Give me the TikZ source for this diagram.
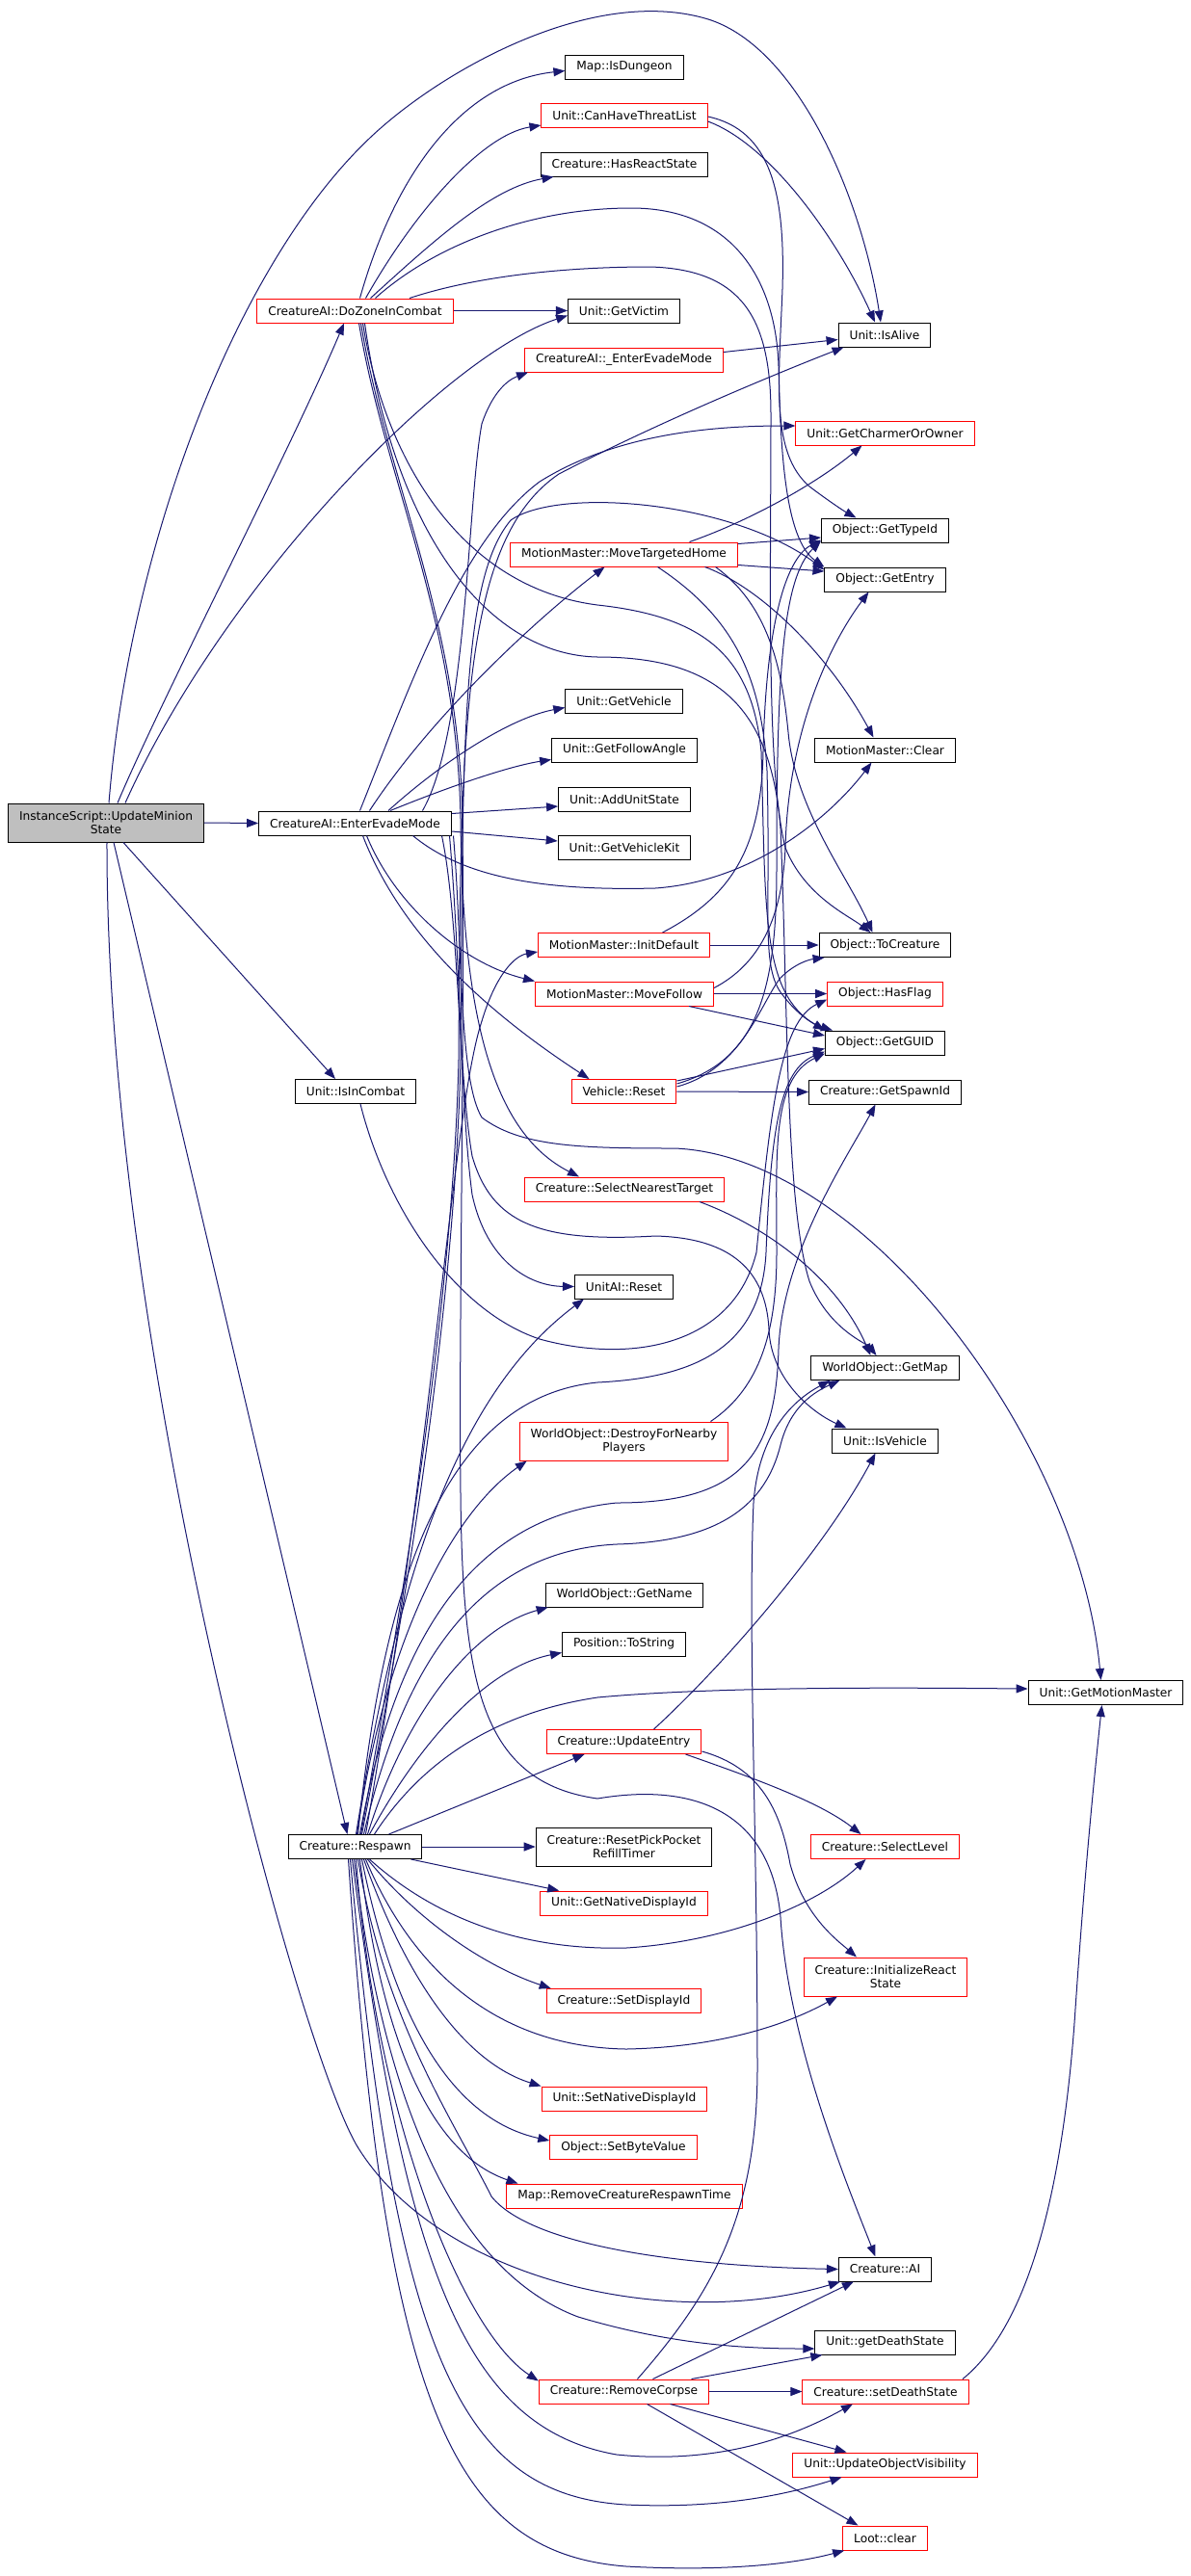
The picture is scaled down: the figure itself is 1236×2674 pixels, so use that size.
\documentclass[tikz,border=0pt]{standalone}
\usepackage{fontspec}
\setmainfont{DejaVu Sans}
\usetikzlibrary{arrows.meta}
\definecolor{edgeblue}{RGB}{25,25,112}
\definecolor{rootgray}{RGB}{191,191,191}
\tikzset{
  fn/.style={draw=black, fill=white, line width=1pt, inner xsep=11.5pt, inner ysep=5.5pt,
    minimum height=25pt, align=center, font=\fontsize{12.2}{14}\selectfont},
  fnred/.style={fn, draw=red},
  fnroot/.style={fn, fill=rootgray},
  twolines/.style={minimum height=40pt},
  call/.style={draw=edgeblue, line width=1pt, -{Triangle[length=12pt,width=9pt]}},
}
\begin{document}
\begin{tikzpicture}[x=1pt,y=-1pt]
\useasboundingbox (0,0) rectangle (1236,2674);

% boxes with a black frame
\foreach \id/\x/\y/\txt in {
  evade/368.5/854.5/{CreatureAI::EnterEvadeMode},
  incombat/369/1133/{Unit::IsInCombat},
  respawn/368.5/1917/{Creature::Respawn},
  isdungeon/648/69.5/{Map::IsDungeon},
  hasreact/648/170.5/{Creature::HasReactState},
  getvictim/647.5/322.5/{Unit::GetVictim},
  getvehicle/647.5/727.5/{Unit::GetVehicle},
  followangle/648/778.5/{Unit::GetFollowAngle},
  addunitstate/648/829.5/{Unit::AddUnitState},
  vehiclekit/648/879.5/{Unit::GetVehicleKit},
  aireset/647.5/1335.5/{UnitAI::Reset},
  getname/648/1655.5/{WorldObject::GetName},
  tostring/647.5/1706.5/{Position::ToString},
  isalive/918/347.5/{Unit::IsAlive},
  typeid/918.5/550.5/{Object::GetTypeId},
  getentry/918.5/601.5/{Object::GetEntry},
  mmclear/918.5/778.5/{MotionMaster::Clear},
  tocreature/918.5/981/{Object::ToCreature},
  getguid/918.5/1082.5/{Object::GetGUID},
  spawnid/918.5/1133.5/{Creature::GetSpawnId},
  getmap/918.5/1420/{WorldObject::GetMap},
  isvehicle/918.5/1495.5/{Unit::IsVehicle},
  creatureai/918.5/2355.5/{Creature::AI},
  getdeath/918.5/2431.5/{Unit::getDeathState},
  motionmaster/1147.5/1757/{Unit::GetMotionMaster}} {
  \node[fn] (\id) at (\x,\y) {\txt};
}

% boxes with a red frame
\foreach \id/\x/\y/\txt in {
  dozone/368.5/322.5/{CreatureAI::DoZoneInCombat},
  canthreat/648/120/{Unit::CanHaveThreatList},
  enterevade/647.5/373.5/{CreatureAI::\_EnterEvadeMode},
  movehome/647.5/575.5/{MotionMaster::MoveTargetedHome},
  initdefault/647.5/981/{MotionMaster::InitDefault},
  movefollow/648/1031.5/{MotionMaster::MoveFollow},
  vehreset/647.5/1133/{Vehicle::Reset},
  selectnearest/648/1234.5/{Creature::SelectNearestTarget},
  updateentry/647.5/1808/{Creature::UpdateEntry},
  getnativedisp/647.5/1975.5/{Unit::GetNativeDisplayId},
  setdisplay/647.5/2077/{Creature::SetDisplayId},
  setnativedisp/648/2178.5/{Unit::SetNativeDisplayId},
  setbyte/647/2229/{Object::SetByteValue},
  removerespawn/648/2279.5/{Map::RemoveCreatureRespawnTime},
  removecorpse/647.5/2482.5/{Creature::RemoveCorpse},
  charmer/918.5/449.5/{Unit::GetCharmerOrOwner},
  hasflag/918.5/1031.5/{Object::HasFlag},
  selectlevel/918.5/1917/{Creature::SelectLevel},
  setdeath/919/2482.5/{Creature::setDeathState},
  updatevis/918.5/2558.5/{Unit::UpdateObjectVisibility},
  lootclear/918.5/2634.5/{Loot::clear}} {
  \node[fnred] (\id) at (\x,\y) {\txt};
}

\node[fnroot, twolines] (root) at (110,854) {InstanceScript::UpdateMinion\\State};
\node[fn, twolines] (pickpocket) at (647.5,1917) {Creature::ResetPickPocket\\RefillTimer};
\node[fnred, twolines] (destroy) at (647.5,1496) {WorldObject::DestroyForNearby\\Players};
\node[fnred, twolines] (initreact) at (919,2052) {Creature::InitializeReact\\State};

% InstanceScript::UpdateMinionState
\draw[call] ([xshift=12pt]root.north) .. controls (170,720) and (300,470) .. ([xshift=-11.5pt]dozone.south);
\draw[call] ([xshift=3pt]root.north) .. controls (135,560) and (250,260) .. (395,133) .. controls (470,67) and (620,-15) .. (735,20) .. controls (830,50) and (895,210) .. ([xshift=-4pt]isalive.north);
\draw[call] ([xshift=20pt]root.north) .. controls (230,610) and (460,370) .. ([yshift=-5pt]getvictim.west);
\draw[call] (root.east) -- (evade.west);
\draw[call] ([xshift=18pt]root.south) -- ([xshift=-21pt]incombat.north);
\draw[call] ([xshift=8pt]root.south) -- ([xshift=-8pt]respawn.north);
\draw[call] ([xshift=1pt]root.south) .. controls (110,1400) and (312,2135) .. (372,2230) .. controls (460,2370) and (700,2420) .. ([xshift=2pt]creatureai.south west);

% CreatureAI::DoZoneInCombat
\draw[call] ([xshift=5pt]dozone.north) .. controls (410,180) and (480,85) .. ([yshift=-4pt]isdungeon.west);
\draw[call] ([xshift=11pt]dozone.north) .. controls (430,220) and (500,140) .. ([yshift=-10pt]canthreat.west);
\draw[call] ([xshift=16pt]dozone.north) .. controls (450,250) and (510,195) .. ([xshift=14pt]hasreact.south west);
\draw[call] (dozone.east) -- (getvictim.west);
\draw[call] ([xshift=21pt]dozone.north) .. controls (450,255) and (550,216) .. (655,216) .. controls (760,216) and (805,290) .. (808,380) .. controls (810,470) and (815,560) .. (getentry.north west);
\draw[call] ([xshift=56.5pt]dozone.north) .. controls (490,288) and (580,277) .. (675,277) .. controls (770,280) and (800,330) .. (800,430) .. controls (800,600) and (795,800) .. (815,880) .. controls (835,930) and (880,950) .. ([xshift=-15pt]tocreature.north);
\draw[call] ([xshift=8pt]dozone.south) .. controls (400,480) and (480,610) .. (620,628) .. controls (730,640) and (780,680) .. (790,780) .. controls (795,950) and (790,1030) .. (getguid.north west);
\draw[call] ([xshift=10pt]dozone.south) .. controls (410,560) and (510,680) .. (620,682) .. controls (740,682) and (800,730) .. (810,860) .. controls (818,1050) and (815,1250) .. (840,1330) .. controls (860,1380) and (900,1395) .. ([xshift=-9pt]getmap.north);
\draw[call] ([xshift=4pt]dozone.south) .. controls (400,500) and (474,640) .. (478,850) .. controls (480,1080) and (520,1180) .. ([xshift=-47pt]selectnearest.north);
\draw[call] ([xshift=6pt]dozone.south) .. controls (402,500) and (476,640) .. (480,850) .. controls (482,1100) and (476,1400) .. (478,1550) .. controls (480,1750) and (500,1850) .. (620,1867) .. controls (720,1850) and (800,1880) .. (810,1990) .. controls (818,2120) and (880,2270) .. ([xshift=-10pt]creatureai.north);

% Unit::CanHaveThreatList, CreatureAI::_EnterEvadeMode
\draw[call] ([yshift=-6pt]canthreat.east) .. controls (800,150) and (870,250) .. ([xshift=-10pt]isalive.north);
\draw[call] ([yshift=-1pt]canthreat.east) .. controls (800,135) and (815,200) .. (812,300) .. controls (808,400) and (800,470) .. (840,505) .. controls (860,520) and (875,530) .. ([xshift=-30pt]typeid.north);
\draw[call] ([yshift=8pt]enterevade.east) -- ([yshift=-5pt]isalive.west);

% CreatureAI::EnterEvadeMode
\draw[call] ([xshift=70pt]evade.north) .. controls (485,760) and (485,520) .. (500,440) .. controls (510,410) and (525,395) .. ([xshift=4pt]enterevade.south west);
\draw[call] ([xshift=5pt]evade.north) .. controls (430,700) and (480,560) .. (560,500) .. controls (640,450) and (740,442) .. ([yshift=7.5pt]charmer.west);
\draw[call] ([xshift=15pt]evade.north) .. controls (450,740) and (560,640) .. ([xshift=-20pt]movehome.south);
\draw[call] ([xshift=34.5pt]evade.north) .. controls (460,790) and (530,745) .. ([yshift=-7pt]getvehicle.west);
\draw[call] ([xshift=36.5pt]evade.north) .. controls (470,815) and (530,795) .. ([yshift=-10pt]followangle.west);
\draw[call] ([yshift=10pt]evade.east) -- ([yshift=-7.5pt]addunitstate.west);
\draw[call] ([yshift=-8.5pt]evade.east) -- ([yshift=6.5pt]vehiclekit.west);
\draw[call] ([xshift=60pt]evade.south) .. controls (480,910) and (560,925) .. (680,922) .. controls (780,915) and (860,850) .. ([xshift=-14pt]mmclear.south);
\draw[call] ([xshift=12pt]evade.south) .. controls (410,940) and (480,1000) .. (movefollow.north west);
\draw[call] ([xshift=8pt]evade.south) .. controls (420,980) and (520,1060) .. ([xshift=-36pt]vehreset.north);
\draw[call] ([xshift=98pt]evade.south) .. controls (478,1000) and (478,1150) .. (490,1240) .. controls (505,1310) and (550,1335) .. (aireset.west);
\draw[call] ([xshift=90pt]evade.south) .. controls (476,950) and (476,1120) .. (490,1200) .. controls (510,1270) and (560,1290) .. (680,1283) .. controls (760,1285) and (795,1320) .. (798,1380) .. controls (800,1430) and (840,1465) .. ([xshift=-40pt]isvehicle.north);
\draw[call] ([xshift=102pt]evade.south) .. controls (480,980) and (476,1120) .. (500,1160) .. controls (540,1190) and (600,1192) .. (700,1192) .. controls (900,1200) and (1120,1500) .. ([xshift=-5pt]motionmaster.north);

% MotionMaster
\draw[call] ([xshift=68pt]movehome.north) .. controls (780,540) and (850,500) .. ([xshift=-24pt]charmer.south);
\draw[call] ([yshift=11pt]movehome.east) -- ([yshift=-7.5pt]typeid.west);
\draw[call] ([yshift=-11pt]movehome.east) -- ([yshift=8.5pt]getentry.west);
\draw[call] ([xshift=84pt]movehome.south) .. controls (790,610) and (860,680) .. ([xshift=-12pt]mmclear.north);
\draw[call] ([xshift=95pt]movehome.south) .. controls (800,630) and (812,700) .. (818,760) .. controls (825,840) and (880,910) .. ([xshift=-13pt]tocreature.north);
\draw[call] ([xshift=35pt]movehome.south) .. controls (760,640) and (790,700) .. (796,800) .. controls (800,950) and (790,1000) .. (810,1030) .. controls (825,1050) and (840,1062) .. ([xshift=8pt]getguid.north west);
\draw[call] (initdefault.east) -- (tocreature.west);
\draw[call] ([xshift=40pt]initdefault.north) .. controls (760,930) and (790,880) .. (792,780) .. controls (795,650) and (815,580) .. ([yshift=-10pt]typeid.west);
\draw[call] (movefollow.east) -- (hasflag.west);
\draw[call] ([xshift=67pt]movefollow.south) -- ([yshift=7.5pt]getguid.west);
\draw[call] ([yshift=6pt]movefollow.east) .. controls (790,1000) and (812,950) .. (815,880) .. controls (818,760) and (860,670) .. ([xshift=-17pt]getentry.south);

% Vehicle::Reset and the other callees
\draw[call] ([yshift=11pt]vehreset.east) -- ([yshift=-6pt]getguid.west);
\draw[call] (vehreset.east) -- (spawnid.west);
\draw[call] ([yshift=5pt]vehreset.east) .. controls (770,1110) and (790,1040) .. (810,1015) .. controls (825,1000) and (840,996) .. ([xshift=6pt]tocreature.south west);
\draw[call] ([yshift=8pt]vehreset.east) .. controls (790,1100) and (806,1020) .. (806,900) .. controls (806,700) and (812,600) .. ([yshift=-11pt]typeid.west);
\draw[call] ([xshift=5pt]incombat.south) .. controls (400,1250) and (470,1360) .. (560,1390) .. controls (650,1415) and (760,1400) .. (785,1300) .. controls (800,1150) and (810,1060) .. ([yshift=-6pt]hasflag.west);
\draw[call] ([xshift=78pt]selectnearest.south) .. controls (800,1275) and (870,1330) .. ([xshift=-15pt]getmap.north);
\draw[call] ([xshift=90pt]destroy.north) .. controls (790,1440) and (806,1380) .. (806,1300) .. controls (806,1200) and (800,1120) .. ([yshift=-11pt]getguid.west);
\draw[call] ([xshift=31pt]updateentry.north) .. controls (760,1720) and (860,1600) .. ([xshift=-10pt]isvehicle.south);
\draw[call] ([xshift=64pt]updateentry.south) .. controls (780,1845) and (850,1870) .. ([xshift=-25pt]selectlevel.north);
\draw[call] ([yshift=-10pt]updateentry.east) .. controls (790,1835) and (810,1880) .. (820,1935) .. controls (835,1990) and (870,2015) .. ([xshift=-30pt]initreact.north);

% Creature::RemoveCorpse, Creature::setDeathState
\draw[call] ([xshift=14pt]removecorpse.north) .. controls (740,2380) and (785,2300) .. (786,2150) .. controls (786,1900) and (776,1700) .. (782,1560) .. controls (788,1480) and (830,1450) .. ([xshift=20pt]getmap.south west);
\draw[call] ([xshift=30pt]removecorpse.north) -- ([xshift=16pt]creatureai.south west);
\draw[call] ([xshift=70pt]removecorpse.north) -- ([xshift=8pt]getdeath.south west);
\draw[call] (removecorpse.east) -- (setdeath.west);
\draw[call] ([xshift=48pt]removecorpse.south) -- ([xshift=-40pt]updatevis.north);
\draw[call] ([xshift=24pt]removecorpse.south) -- ([xshift=-28pt]lootclear.north);
\draw[call] ([xshift=80pt]setdeath.north) .. controls (1060,2420) and (1100,2300) .. (1115,2100) .. controls (1125,1950) and (1135,1850) .. ([xshift=-4pt]motionmaster.south);

% Creature::Respawn, upwards
\draw[call] ([xshift=2pt]respawn.north) .. controls (400,1700) and (470,1570) .. ([xshift=8pt]destroy.south west);
\draw[call] ([xshift=13pt]respawn.north) .. controls (420,1780) and (490,1690) .. ([xshift=3pt]getname.south west);
\draw[call] ([xshift=15pt]respawn.north) .. controls (440,1800) and (510,1730) .. ([yshift=-9pt]tostring.west);
\draw[call] ([xshift=35pt]respawn.north) -- ([xshift=40pt]updateentry.south west);
\draw[call] ([xshift=20pt]respawn.north) .. controls (430,1840) and (500,1780) .. (620,1762) .. controls (750,1750) and (950,1752) .. ([yshift=4pt]motionmaster.west);
\draw[call] ([xshift=6pt]respawn.north) .. controls (420,1650) and (470,1350) .. (476,1100) .. controls (478,750) and (480,560) .. (580,492) .. controls (680,440) and (800,390) .. ([xshift=6pt]isalive.south west);
\draw[call] ([xshift=7pt]respawn.north) .. controls (425,1650) and (472,1350) .. (478,1100) .. controls (480,760) and (480,600) .. (530,540) .. controls (580,505) and (760,520) .. ([yshift=-3pt]getentry.north west);
\draw[call] ([xshift=3pt]respawn.north) .. controls (400,1620) and (470,1450) .. (620,1435) .. controls (720,1430) and (790,1400) .. (795,1300) .. controls (800,1170) and (810,1110) .. ([yshift=-9pt]getguid.west);
\draw[call] ([xshift=5pt]respawn.north) .. controls (410,1700) and (490,1575) .. (640,1560) .. controls (770,1560) and (805,1510) .. (808,1400) .. controls (812,1300) and (880,1200) .. ([xshift=-10pt]spawnid.south);
\draw[call] ([xshift=9pt]respawn.north) .. controls (420,1720) and (500,1610) .. (640,1603) .. controls (750,1600) and (795,1560) .. (810,1500) .. controls (820,1460) and (845,1445) .. ([xshift=30pt]getmap.south west);
\draw[call] ([xshift=1pt]respawn.north) .. controls (410,1650) and (470,1450) .. ([xshift=10pt]aireset.south west);
\draw[call] ([xshift=11pt]respawn.north) .. controls (450,1500) and (470,1150) .. (500,1060) .. controls (515,1010) and (535,992) .. ([yshift=-7pt]initdefault.west);

% Creature::Respawn, downwards
\draw[call] (respawn.east) -- (pickpocket.west);
\draw[call] ([xshift=58pt]respawn.south) -- ([xshift=20pt]getnativedisp.north west);
\draw[call] ([xshift=15pt]respawn.south) .. controls (450,1990) and (540,2025) .. (650,2022) .. controls (760,2015) and (850,1975) .. ([xshift=-20pt]selectlevel.south);
\draw[call] ([xshift=13pt]respawn.south) .. controls (430,1990) and (500,2040) .. ([xshift=5pt]setdisplay.north west);
\draw[call] ([xshift=11pt]respawn.south) .. controls (430,2050) and (520,2125) .. (650,2127) .. controls (750,2125) and (820,2100) .. ([xshift=-50pt]initreact.south);
\draw[call] ([xshift=9pt]respawn.south) .. controls (420,2050) and (480,2140) .. (setnativedisp.north west);
\draw[call] ([xshift=7pt]respawn.south) .. controls (410,2100) and (470,2200) .. ([yshift=7pt]setbyte.west);
\draw[call] ([xshift=5pt]respawn.south) .. controls (400,2150) and (460,2240) .. ([xshift=12pt]removerespawn.north west);
\draw[call] ([xshift=3pt]respawn.south) .. controls (400,2100) and (470,2200) .. (510,2280) .. controls (550,2330) and (700,2352) .. (creatureai.west);
\draw[call] ([xshift=1pt]respawn.south) .. controls (390,2200) and (480,2420) .. ([yshift=-2pt]removecorpse.north west);
\draw[call] ([xshift=-1pt]respawn.south) .. controls (400,2200) and (480,2360) .. (600,2405) .. controls (700,2435) and (780,2438) .. ([yshift=-6.5pt]getdeath.west);
\draw[call] ([xshift=-3pt]respawn.south) .. controls (420,2350) and (480,2520) .. (640,2548) .. controls (760,2560) and (840,2520) .. ([xshift=-34pt]setdeath.south);
\draw[call] ([xshift=-5pt]respawn.south) .. controls (410,2450) and (480,2590) .. (650,2600) .. controls (760,2605) and (830,2585) .. ([xshift=-45pt]updatevis.south);
\draw[call] ([xshift=-7pt]respawn.south) .. controls (400,2500) and (470,2650) .. (650,2664) .. controls (760,2670) and (830,2660) .. ([xshift=2pt]lootclear.south west);
\end{tikzpicture}
\end{document}
